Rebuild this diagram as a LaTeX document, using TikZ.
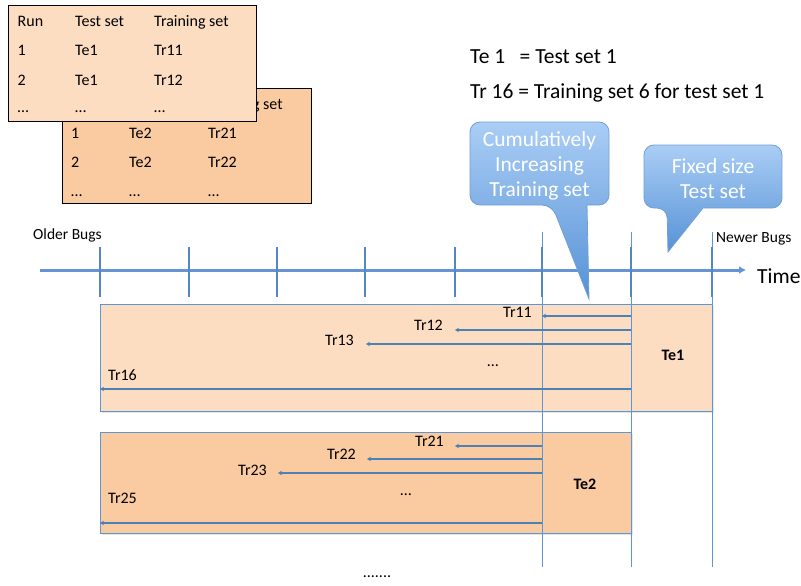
\documentclass[tikz,border=0pt]{standalone}
\usepackage{fontspec}
\setmainfont{Carlito}
\usetikzlibrary{arrows.meta,shadows}
\definecolor{peachL}{RGB}{252,221,193}
\definecolor{peachD}{RGB}{250,202,160}
\definecolor{axisblue}{RGB}{100,148,212}
\definecolor{tickblue}{RGB}{84,134,198}
\definecolor{lineblue}{RGB}{91,150,213}
\definecolor{callTop}{RGB}{170,205,245}
\definecolor{callBot}{RGB}{86,146,214}
\definecolor{callEdge}{RGB}{112,160,214}
\begin{document}
\begin{tikzpicture}[x=1pt,y=-1pt,
  tabletxt/.style={font=\fontsize{16}{18}\selectfont, anchor=base west, inner sep=0pt},
  lbl/.style={font=\fontsize{16}{18}\selectfont, inner sep=0pt},
  axlbl/.style={font=\fontsize{15.5}{18}\selectfont, inner sep=0pt},
  legend/.style={font=\fontsize{21.5}{24}\selectfont, anchor=base west, inner sep=0pt},
  calltext/.style={font=\fontsize{21.5}{25}\selectfont, text=white, align=center, inner sep=0pt},
  tablebox/.style={draw=black, line width=1.1pt},
  setbox/.style={draw=lineblue, line width=0.9pt, drop shadow={opacity=0.2, shadow xshift=1.5pt, shadow yshift=-1.5pt}},
  callout/.style={draw=callEdge, line width=0.8pt, top color=callTop, bottom color=callBot},
  tick/.style={draw=tickblue, line width=2.4pt},
  vline/.style={draw=lineblue, line width=0.9pt},
  trarrow/.style={draw=lineblue!85!black, line width=2.3pt, -{Stealth[length=4pt,width=4.5pt]}},
]
\useasboundingbox (0,0) rectangle (801,586);

% ---- tables ----
\node[tablebox, fill=peachD, minimum width=249pt, minimum height=115pt, anchor=north west, inner sep=0pt] (tab2) at (62,88) {};
\node[tabletxt] (t2h3) at (208,110) {Training set};
\node[tabletxt] (t2a1) at (71,139) {1};
\node[tabletxt] (t2a2) at (129,139) {Te2};
\node[tabletxt] (t2a3) at (208,139) {Tr21};
\node[tabletxt] (t2b1) at (71,167) {2};
\node[tabletxt] (t2b2) at (129,167) {Te2};
\node[tabletxt] (t2b3) at (208,167) {Tr22};
\node[tabletxt] (t2c1) at (71,196) {…};
\node[tabletxt] (t2c2) at (129,196) {…};
\node[tabletxt] (t2c3) at (208,196) {…};

\node[tablebox, fill=peachL, minimum width=248pt, minimum height=116pt, anchor=north west, inner sep=0pt] (tab1) at (8,5) {};
\node[tabletxt] (t1h1) at (17.5,27) {Run};
\node[tabletxt] (t1h2) at (75,27) {Test set};
\node[tabletxt] (t1h3) at (154,27) {Training set};
\node[tabletxt] (t1a1) at (17.5,56) {1};
\node[tabletxt] (t1a2) at (75,56) {Te1};
\node[tabletxt] (t1a3) at (154,56) {Tr11};
\node[tabletxt] (t1b1) at (17.5,85) {2};
\node[tabletxt] (t1b2) at (75,85) {Te1};
\node[tabletxt] (t1b3) at (154,85) {Tr12};
\node[tabletxt] (t1c1) at (17.5,113) {…};
\node[tabletxt] (t1c2) at (75,113) {…};
\node[tabletxt] (t1c3) at (154,113) {…};

% ---- legend ----
\node[legend] (leg1) at (470,64) {\makebox[2.302em][l]{Te 1}= Test set 1};
\node[legend] (leg2) at (470,99) {Tr 16 = Training set 6 for test set 1};

% ---- set boxes ----
\node[setbox, fill=peachL, minimum width=612pt, minimum height=107pt, anchor=north west, inner sep=0pt] (box1) at (100,304) {};
\node[setbox, fill=peachD, minimum width=531pt, minimum height=101pt, anchor=north west, inner sep=0pt] (box2) at (100,432) {};

% ---- vertical lines ----
\coordinate (v1t) at (542,232); \coordinate (v1b) at (542,567);
\coordinate (v2t) at (631,232); \coordinate (v2b) at (631,567);
\coordinate (v3t) at (712,232); \coordinate (v3b) at (712,567);
\draw[vline] (v1t) -- (v1b);
\draw[vline] (v2t) -- (v2b);
\draw[vline] (v3t) -- (v3b);

% ---- time axis ----
\coordinate (ax0) at (40,270);
\coordinate (ax1) at (746,270);
\draw[draw=axisblue, line width=3pt, -{Latex[length=7pt,width=8pt]}] (ax0) -- (ax1);
\foreach \x/\n in {100/a,189/b,277/c,365/d,455/e,542/f,631/g,712/h}{
  \coordinate (tk\n t) at (\x,247);
  \coordinate (tk\n b) at (\x,297);
  \draw[tick] (tk\n t) -- (tk\n b);
}
\node[axlbl, anchor=west] (older) at (33,235) {Older Bugs};
\node[axlbl, anchor=west] (newer) at (716,239) {Newer Bugs};
\node[font=\fontsize{21.5}{24}\selectfont, anchor=west, inner sep=0pt] (time) at (757,276) {Time};

% ---- callouts ----
\path[callout] (587,205) [rounded corners=10pt] -- (609,205) -- (609,122) -- (470,122) -- (470,205) -- (552,205) [sharp corners] -- (589,299) -- cycle;
\node[calltext] (c1) at (539.5,166) {Cumulatively\\Increasing\\Training set};
\path[callout] (703,208) [rounded corners=10pt] -- (782,208) -- (782,145) -- (644,145) -- (644,208) -- (667,208) [sharp corners] -- (668,252) -- cycle;
\node[calltext] (c2) at (713,179) {Fixed size\\Test set};

% ---- Te1 arrows ----
\coordinate (a11s) at (631,316); \coordinate (a11e) at (542,316);
\coordinate (a12s) at (631,330); \coordinate (a12e) at (455,330);
\coordinate (a13s) at (631,344); \coordinate (a13e) at (366,344);
\coordinate (a16s) at (631,389); \coordinate (a16e) at (100,389);
\draw[trarrow, line width=1.7pt] (a11s) -- (a11e);
\draw[trarrow, line width=2.8pt] (a12s) -- (a12e);
\draw[trarrow] (a13s) -- (a13e);
\draw[trarrow] (a16s) -- (a16e);
\node[lbl, anchor=east] (l11) at (532,312) {Tr11};
\node[lbl, anchor=east] (l12) at (443,325) {Tr12};
\node[lbl, anchor=east] (l13) at (354,340) {Tr13};
\node[lbl, anchor=west] (l16) at (108,375) {Tr16};
\node[lbl] (dots1) at (493,366) {…};
\node[lbl, font=\bfseries\fontsize{16}{18}\selectfont] (te1) at (673,355) {Te1};

% ---- Te2 arrows ----
\coordinate (a21s) at (542,446); \coordinate (a21e) at (455,446);
\coordinate (a22s) at (542,459); \coordinate (a22e) at (367,459);
\coordinate (a23s) at (542,473); \coordinate (a23e) at (278,473);
\coordinate (a25s) at (542,523); \coordinate (a25e) at (100,523);
\draw[trarrow] (a21s) -- (a21e);
\draw[trarrow] (a22s) -- (a22e);
\draw[trarrow] (a23s) -- (a23e);
\draw[trarrow, line width=2.8pt] (a25s) -- (a25e);
\node[lbl, anchor=east] (l21) at (444,441) {Tr21};
\node[lbl, anchor=east] (l22) at (356,454) {Tr22};
\node[lbl, anchor=east] (l23) at (267,470) {Tr23};
\node[lbl, anchor=west] (l25) at (108,498) {Tr25};
\node[lbl] (dots2) at (406,495) {…};
\node[lbl, font=\bfseries\fontsize{16}{18}\selectfont] (te2) at (585,484) {Te2};

% ---- bottom dots ----
\node[lbl] (moredots) at (377,577) {.......};
\end{tikzpicture}
\end{document}
